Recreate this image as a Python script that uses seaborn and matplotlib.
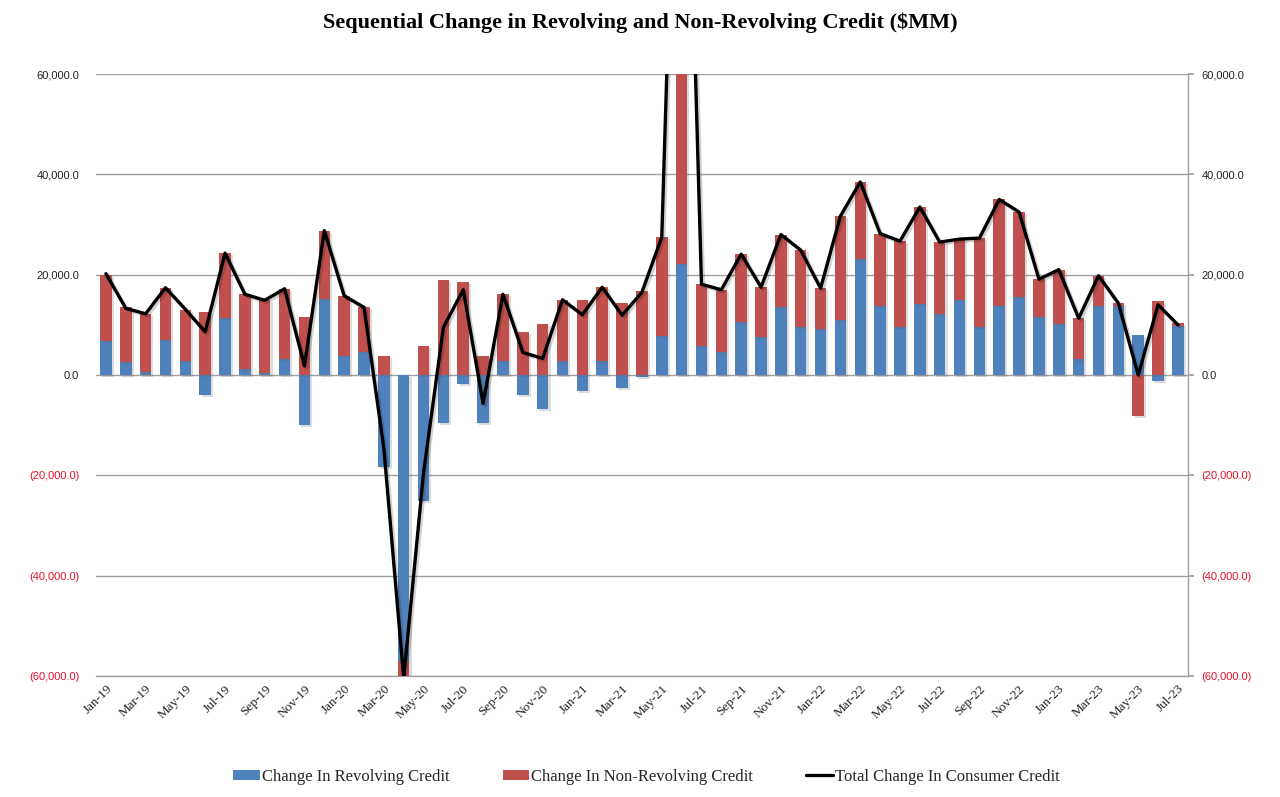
import numpy as np
import pandas as pd
import matplotlib
matplotlib.use("Agg")
import matplotlib.pyplot as plt
import matplotlib.patheffects as pe
from matplotlib.patches import Patch
from matplotlib.lines import Line2D
import seaborn as sns

# ---------------- data ----------------
months = ["Jan-19", "Feb-19", "Mar-19", "Apr-19", "May-19", "Jun-19", "Jul-19", "Aug-19", "Sep-19", "Oct-19",
          "Nov-19", "Dec-19", "Jan-20", "Feb-20", "Mar-20", "Apr-20", "May-20", "Jun-20", "Jul-20", "Aug-20",
          "Sep-20", "Oct-20", "Nov-20", "Dec-20", "Jan-21", "Feb-21", "Mar-21", "Apr-21", "May-21", "Jun-21",
          "Jul-21", "Aug-21", "Sep-21", "Oct-21", "Nov-21", "Dec-21", "Jan-22", "Feb-22", "Mar-22", "Apr-22",
          "May-22", "Jun-22", "Jul-22", "Aug-22", "Sep-22", "Oct-22", "Nov-22", "Dec-22", "Jan-23", "Feb-23",
          "Mar-23", "Apr-23", "May-23", "Jun-23", "Jul-23"]

revolving = [6800, 2500, 500, 7000, 2800, -4000, 11300, 1100, 300, 3100,
             -9900, 15200, 3800, 4600, -18400, -57000, -25200, -9600, -1800, -9600,
             2800, -4000, -6800, 2700, -3100, 2700, -2500, -400, 7800, 22200,
             5700, 4500, 10500, 7500, 13500, 9500, 9100, 11000, 23100, 13700,
             9500, 14200, 12200, 14900, 9500, 13800, 15500, 11500, 10200, 3100,
             13700, 13700, 8000, -1100, 9700]

non_revolving = [13200, 11000, 11700, 10400, 10200, 12600, 13000, 15000, 14600, 14100,
                 11500, 13600, 12000, 8900, 3800, -3500, 5700, 18900, 18500, 3800,
                 13300, 8500, 10100, 12300, 15000, 14800, 14300, 16800, 19700, 135000,
                 12400, 12500, 13600, 10000, 14500, 15400, 8200, 20700, 15400, 14500,
                 17200, 19300, 14300, 12200, 17800, 21200, 17000, 7600, 10800, 8200,
                 6100, 600, -8200, 14800, 600]

total_change = [20200, 13300, 12200, 17400, 13100, 8600, 24300, 16100, 14900, 17200,
                1800, 28800, 15800, 13500, -14600, -60500, -19500, 9500, 17000, -5700,
                16100, 4500, 3300, 15000, 12000, 17500, 11900, 16500, 27500, 157000,
                18100, 17000, 24100, 17500, 28000, 24900, 17300, 31700, 38500, 28200,
                26700, 33500, 26500, 27100, 27300, 35000, 32500, 19100, 21000, 11300,
                19800, 14300, 0, 14000, 10000]

y_ticks = [-60000, -40000, -20000, 0, 20000, 40000, 60000]

BLUE = "#4F81BD"
RED = "#C0504D"

df = pd.DataFrame({"month": months, "rev": revolving, "nonrev": non_revolving, "total": total_change})
df["idx"] = np.arange(len(df))
rev = df["rev"].to_numpy(float)
non = df["nonrev"].to_numpy(float)
# Excel-style stacking: same-sign values stack, opposite signs start from zero
red_bottom = np.where(np.sign(rev) == np.sign(non), rev, 0.0)

# ---------------- figure ----------------
sns.set_theme(style="white")
plt.rcParams["font.family"] = ["Liberation Serif", "DejaVu Serif"]

fig = plt.figure(figsize=(12.8, 7.97), dpi=100)
ax = fig.add_axes([0.075, 0.152, 0.853, 0.755])

shadow = [pe.SimplePatchShadow(offset=(1.5, -1.5), alpha=0.22, shadow_rgbFace="#606060"), pe.Normal()]

bw = 0.58
sns.barplot(data=df, x="idx", y="rev", color=BLUE, width=bw, saturation=1,
            native_scale=True, ax=ax, zorder=3, edgecolor="none", linewidth=0)
ax.bar(df["idx"], non, bottom=red_bottom, width=bw, color=RED, zorder=3, linewidth=0)
for p in ax.patches:
    p.set_path_effects(shadow)

sns.lineplot(data=df, x="idx", y="total", color="black", linewidth=2.4, ax=ax, zorder=5,
             path_effects=[pe.SimpleLineShadow(offset=(1.5, -1.5), alpha=0.2), pe.Normal()])

ax.set_xlim(-0.5, len(df) - 0.5)
ax.set_ylim(-60000, 60000)
ax.set_yticks(y_ticks)
ax.grid(axis="y", color="#A0A0A0", linewidth=1.0, zorder=0)
ax.grid(axis="x", visible=False)
for s in ["left", "top", "right"]:
    ax.spines[s].set_visible(False)
ax.spines["bottom"].set_color("#A0A0A0")
ax.spines["bottom"].set_linewidth(1.0)


def fmt(v):
    return f"({abs(v):,.1f})" if v < 0 else f"{v:,.1f}"


labels = [fmt(v) for v in y_ticks]
ax.set_yticklabels(labels, fontsize=8, family=["Liberation Sans", "DejaVu Sans"])
ax.tick_params(axis="y", length=0, pad=12)
for t, v in zip(ax.get_yticklabels(), y_ticks):
    t.set_color("#E8102A" if v < 0 else "#222222")

ax.set_xticks(df["idx"][::2])
ax.set_xticklabels(df["month"][::2], rotation=45, ha="right", rotation_mode="anchor",
                   fontsize=9.5, color="#222222")
ax.tick_params(axis="x", length=0, pad=5)
ax.set_xlabel("")
ax.set_ylabel("")

ax2 = ax.twinx()
ax2.set_ylim(ax.get_ylim())
ax2.set_yticks(y_ticks)
ax2.set_yticklabels(labels, fontsize=8, family=["Liberation Sans", "DejaVu Sans"])
for t, v in zip(ax2.get_yticklabels(), y_ticks):
    t.set_color("#E8102A" if v < 0 else "#222222")
for s in ["left", "top", "bottom"]:
    ax2.spines[s].set_visible(False)
ax2.spines["right"].set_color("#A0A0A0")
ax2.spines["right"].set_linewidth(1.0)
ax2.tick_params(axis="y", length=4, color="#A0A0A0", direction="out", pad=6, right=True)
ax2.grid(False)

fig.text(0.5, 0.971, "Sequential Change in Revolving and Non-Revolving Credit ($MM)",
         ha="center", va="center", fontsize=16, fontweight="bold", color="black")

handles = [Patch(facecolor=BLUE, edgecolor="none"),
           Patch(facecolor=RED, edgecolor="none"),
           Line2D([0], [0], color="black", linewidth=2.4)]
names = ["Change In Revolving Credit", "Change In Non-Revolving Credit", "Total Change In Consumer Credit"]
fig.legend(handles, names, loc="center", bbox_to_anchor=(0.505, 0.025), ncol=3, frameon=False,
           fontsize=12, handlelength=1.6, handleheight=0.6, handletextpad=0.1, columnspacing=3.2)

fig.savefig("out.png", dpi=100)
